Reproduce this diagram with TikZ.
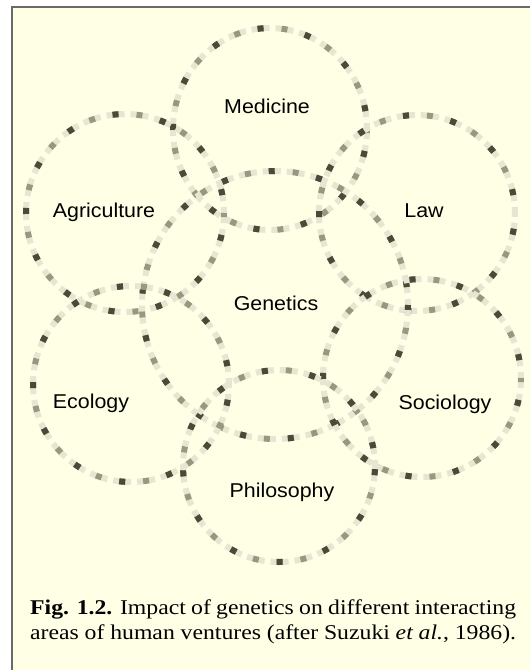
\documentclass[tikz,border=0pt]{standalone}
\usepackage{fontspec}
\setmainfont{Liberation Serif}
\newfontfamily\labelfont{Liberation Sans}
\definecolor{bgcream}{HTML}{FFFFE6}
\definecolor{framegray}{HTML}{6A6A6A}
\definecolor{pixlight}{HTML}{E6E6D2}
\definecolor{pixmid}{HTML}{98987F}
\definecolor{pixdark}{HTML}{4A4A38}
\begin{document}
\begin{tikzpicture}[x=1pt,y=-1pt,
  ringlight/.style={line width=6pt, draw=pixlight, dash pattern=on 6pt off 6pt},
  ringmid/.style={line width=6pt, draw=pixmid, dash pattern=on 6pt off 18pt, dash phase=6pt},
  ringdark/.style={line width=6pt, draw=pixdark, dash pattern=on 6pt off 42pt, dash phase=30pt},
  area/.style={font=\labelfont\fontsize{20}{24}\selectfont, anchor=base, inner sep=0pt},
  captext/.style={font=\fontsize{21}{25}\selectfont, anchor=base west, inner sep=0pt},
]
\useasboundingbox (0,0) rectangle (530,670);
\fill[white] (0,0) rectangle (530,670);
\fill[bgcream] (12,7) rectangle (530,670);
\draw[framegray, line width=1.5pt] (12,670) -- (12,7) -- (530,7);

% rings: centre x / centre y / x radius / y radius
\foreach \cx/\cy/\rx/\ry in {270/129/97/101, 125/213/99/99, 417/213/98/98, 275/305/133/134, 131/384/98/98, 422/378/99/99, 279/466/96/96}{
  \draw[ringlight] (\cx,\cy) ellipse[x radius=\rx pt, y radius=\ry pt];
  \draw[ringmid]   (\cx,\cy) ellipse[x radius=\rx pt, y radius=\ry pt];
  \draw[ringdark]  (\cx,\cy) ellipse[x radius=\rx pt, y radius=\ry pt];
}

\node[area] (medicine)    at (267,113) {\scalebox{1.07}[1]{Medicine}};
\node[area] (agriculture) at (104,217) {\scalebox{1.07}[1]{Agriculture}};
\node[area] (law)         at (424,217) {\scalebox{1.07}[1]{Law}};
\node[area] (genetics)    at (276,310) {\scalebox{1.07}[1]{Genetics}};
\node[area] (ecology)     at (91,408)  {\scalebox{1.07}[1]{Ecology}};
\node[area] (sociology)   at (445,409) {\scalebox{1.07}[1]{Sociology}};
\node[area] (philosophy)  at (282,497) {\scalebox{1.07}[1]{Philosophy}};

\node[captext] (cap1) at (30,614) {\scalebox{1.13}[1]{\makebox[430pt][s]{\textbf{Fig. 1.2.} Impact of genetics on different interacting}}};
\node[captext] (cap2) at (30,639) {\scalebox{1.13}[1]{\makebox[430pt][s]{areas of human ventures (after Suzuki \textit{et al.}, 1986).}}};
\end{tikzpicture}
\end{document}
